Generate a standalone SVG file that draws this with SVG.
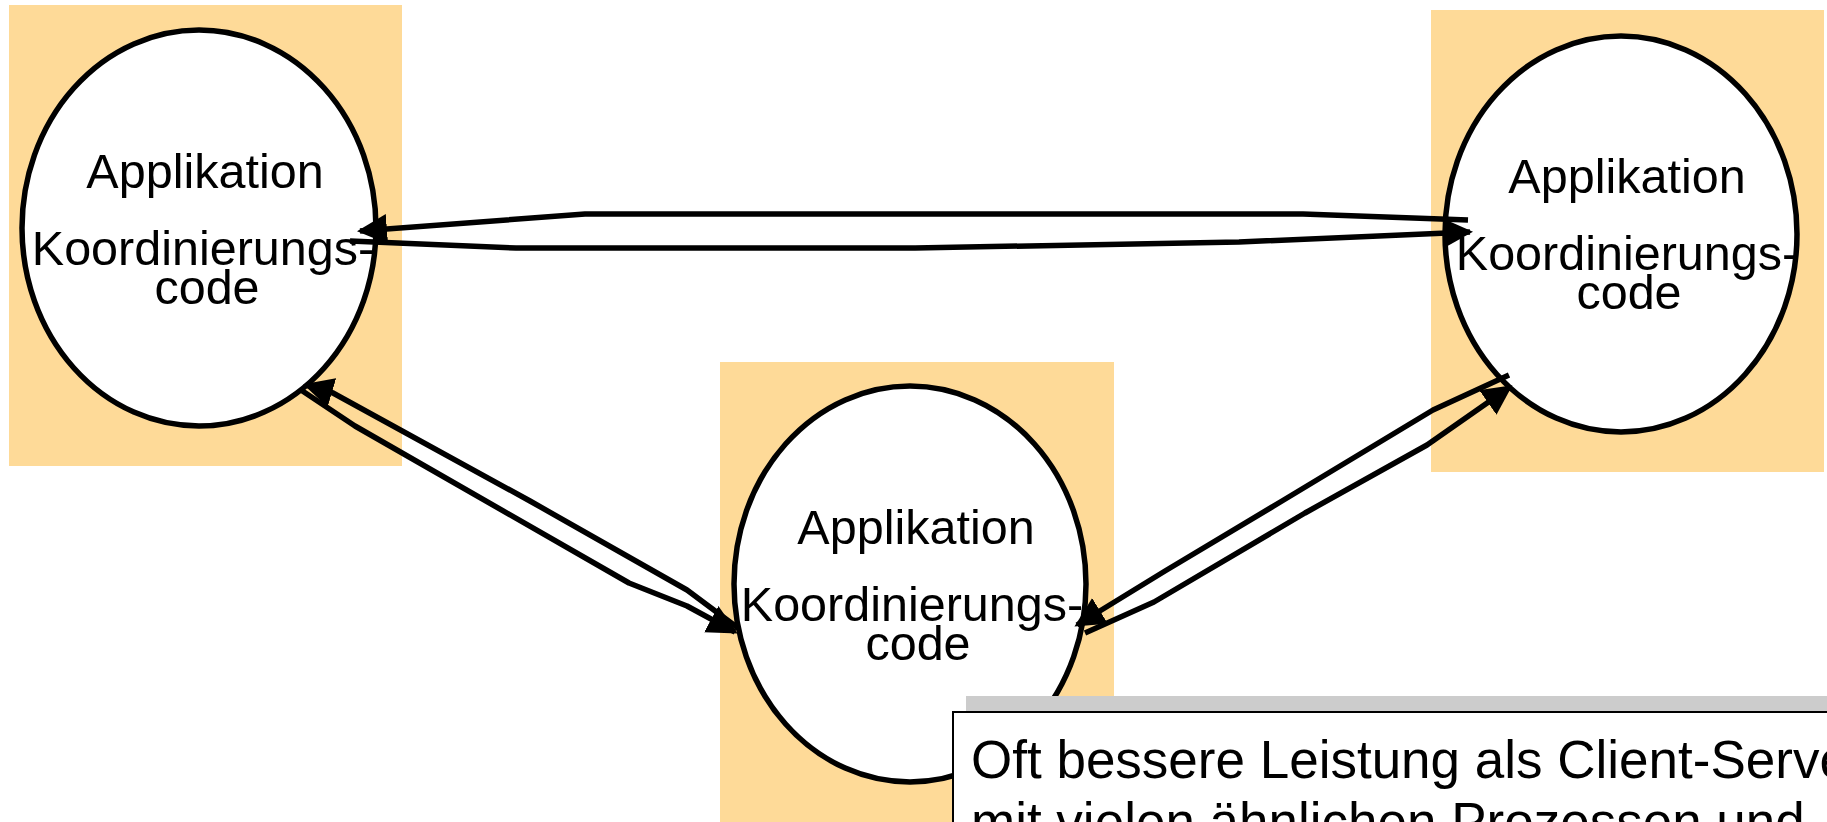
<svg xmlns="http://www.w3.org/2000/svg" width="1827" height="822" viewBox="0 0 1827 822">
<style>
.bg{fill:#FEDA98}
.ell{fill:#FFFFFF;stroke:#000000;stroke-width:5.5}
.lbl{font-family:"Liberation Sans",Arial,sans-serif;font-size:48.5px;fill:#000000;text-anchor:middle}
.con{fill:none;stroke:#000000;stroke-width:5.5;stroke-linejoin:round;marker-end:url(#ah)}
.note{font-family:"Liberation Sans",Arial,sans-serif;font-size:53px;fill:#000000}
</style>
<defs>
<marker id="ah" viewBox="0 0 10 10" refX="9" refY="5" markerWidth="30" markerHeight="30" markerUnits="userSpaceOnUse" orient="auto">
<path d="M0,0 L10,5 L0,10 z" fill="#000000"/>
</marker>
</defs>
<rect width="1827" height="822" fill="#FFFFFF"/>
<g id="node-left">
<rect class="bg" x="9" y="5" width="393" height="461"/>
<ellipse class="ell" cx="199" cy="228" rx="177" ry="198"/>
<text class="lbl" x="205" y="188">Applikation</text>
<text class="lbl" x="203" y="265">Koordinierungs-</text>
<text class="lbl" x="207" y="304">code</text>
</g>
<g id="node-right">
<rect class="bg" x="1431" y="10" width="393" height="462"/>
<ellipse class="ell" cx="1621" cy="234" rx="176" ry="198"/>
<text class="lbl" x="1627" y="193">Applikation</text>
<text class="lbl" x="1627" y="270">Koordinierungs-</text>
<text class="lbl" x="1629" y="309">code</text>
</g>
<g id="node-middle">
<rect class="bg" x="720" y="362" width="394" height="470"/>
<ellipse class="ell" cx="910" cy="584" rx="176" ry="198"/>
<text class="lbl" x="916" y="544">Applikation</text>
<text class="lbl" x="912" y="621">Koordinierungs-</text>
<text class="lbl" x="918" y="660">code</text>
</g>
<g id="connectors">
<path class="con" d="M1468,220 L1303,214 L585,214 L360,231"/>
<path class="con" d="M350,241 L516,248 L915,248 L1239,242 L1470,232"/>
<path class="con" d="M738,628 L687,590 L530,501 L333,393 L306,385"/>
<path class="con" d="M301,390 L355,426 L629,583 L687,606 L735,632"/>
<path class="con" d="M1509,375 L1433,410 L1282,501 L1165,571 L1077,625"/>
<path class="con" d="M1085,633 L1154,602 L1305,513 L1427,445 L1510,387"/>
</g>
<g id="note">
<rect x="966" y="696" width="880" height="20" fill="#CCCCCC"/>
<rect x="953" y="712" width="900" height="150" fill="#FFFFFF" stroke="#000000" stroke-width="2"/>
<text class="note" x="971" y="778">Oft bessere Leistung als Client-Server</text>
<text class="note" x="971" y="840">mit vielen ähnlichen Prozessen und</text>
</g>
</svg>
